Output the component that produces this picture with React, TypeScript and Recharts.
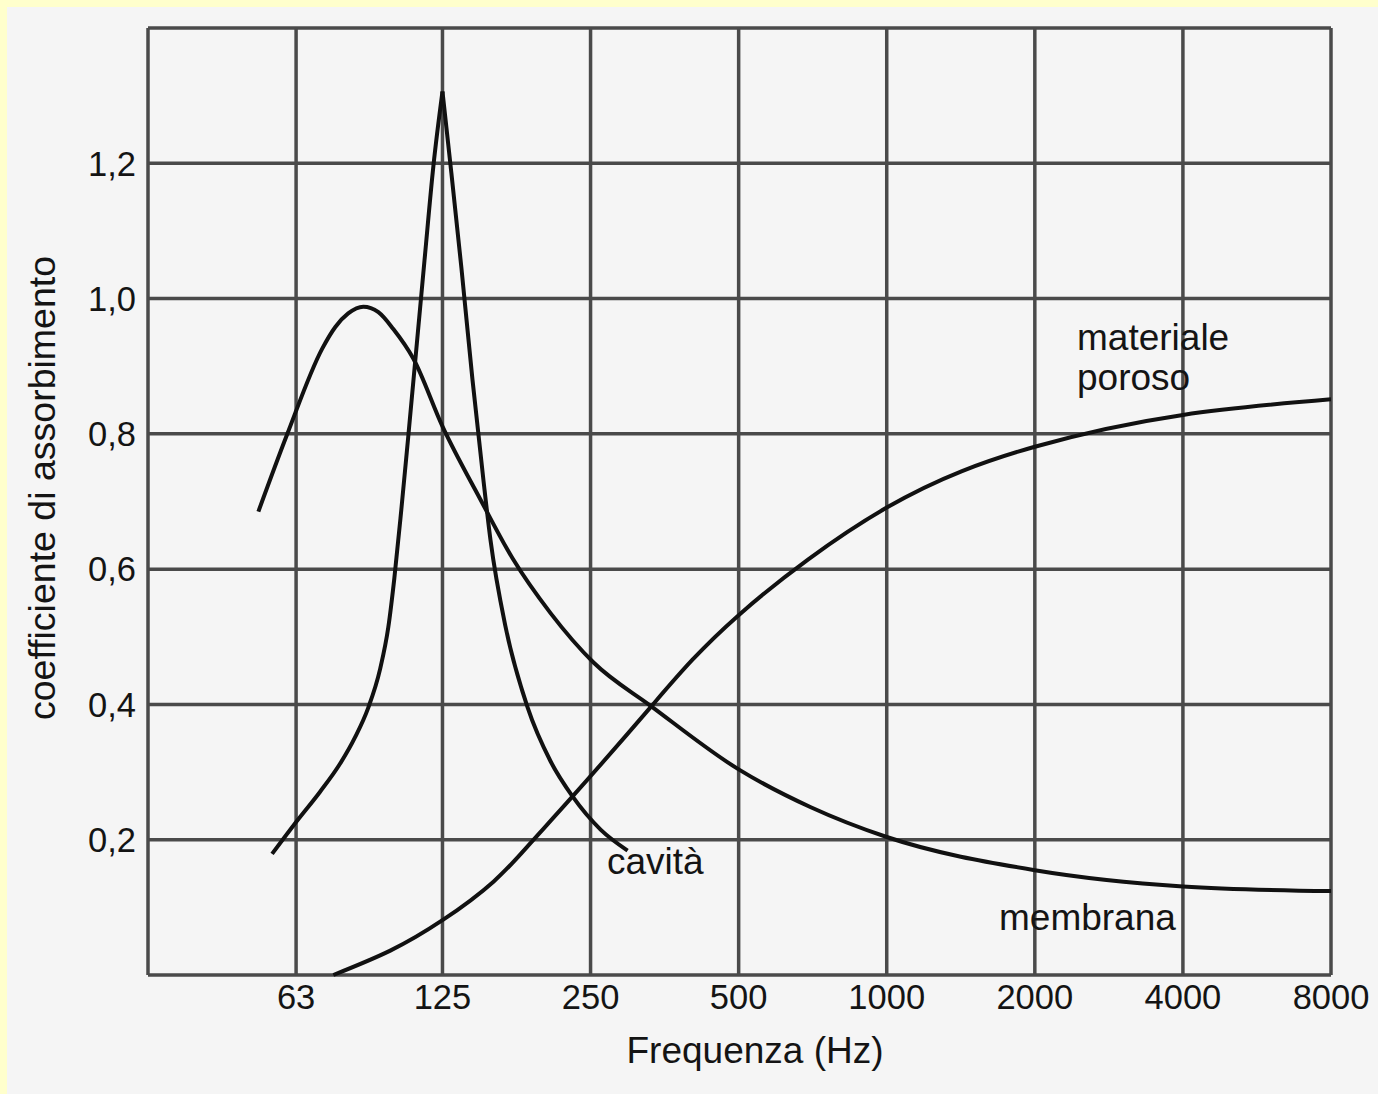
import React from 'react';
import { LineChart, Line, XAxis, YAxis, CartesianGrid } from 'recharts';

// octave band frequencies (Hz); 31.5 is the unlabelled left edge
const freqTicks = [31.5, 63, 125, 250, 500, 1000, 2000, 4000, 8000];
const alphaTicks = [0, 0.2, 0.4, 0.6, 0.8, 1.0, 1.2, 1.4];

// membrana
const membranaFreq = [52.8, 60.4, 71.2, 75.7, 80.4, 86.3, 92.6, 99.3, 109.1, 125, 149.3, 173.5, 207.3, 253.5, 331.2, 500, 700.9, 1000, 2000, 4000, 8000];
const membranaAlpha = [0.685, 0.799, 0.926, 0.958, 0.978, 0.988, 0.98, 0.955, 0.911, 0.811, 0.703, 0.616, 0.535, 0.462, 0.398, 0.304, 0.248, 0.204, 0.155, 0.131, 0.124];

// cavità (risonatore) - rising and falling side of the peak
const cavitaUpFreq = [56.3, 63.3, 70.5, 77.5, 83.1, 88.3, 93.4, 97.0, 99.8, 103.1, 106.5, 114.9, 119.8, 125];
const cavitaUpAlpha = [0.179, 0.228, 0.271, 0.313, 0.352, 0.395, 0.453, 0.514, 0.587, 0.688, 0.796, 1.056, 1.196, 1.306];
const cavitaDownFreq = [125, 130.3, 136.6, 143.8, 151.4, 156.5, 167.9, 186.1, 207.3, 229.8, 262.0, 297.3];
const cavitaDownAlpha = [1.306, 1.186, 1.045, 0.881, 0.732, 0.643, 0.515, 0.396, 0.316, 0.264, 0.215, 0.184];

// materiale poroso
const porosoFreq = [75, 97.9, 125, 158.7, 188.7, 229.8, 331.2, 500, 1000, 2000, 4000, 8000];
const porosoAlpha = [0, 0.036, 0.081, 0.138, 0.195, 0.264, 0.396, 0.532, 0.691, 0.781, 0.828, 0.851];

const toRows = (f: number[], a: number[]) => f.map((v, i) => ({ f: v, a: a[i] }));

const membrana = toRows(membranaFreq, membranaAlpha);
const cavitaUp = toRows(cavitaUpFreq, cavitaUpAlpha);
const cavitaDown = toRows(cavitaDownFreq, cavitaDownAlpha);
const poroso = toRows(porosoFreq, porosoAlpha);

const FONT = '"Liberation Sans", Arial, Helvetica, sans-serif';
const INK = '#141414';
const tickStyle = { fontSize: 34.5, fill: INK, fontFamily: FONT };

const curveProps = {
  dataKey: 'a',
  stroke: '#111',
  strokeWidth: 4,
  dot: false,
  activeDot: false,
  isAnimationActive: false,
};

export default function App() {
  return (
    <div style={{ position: 'fixed', left: 0, top: 0, width: 1378, height: 1094, background: '#ffffcc', overflow: 'hidden' }}>
      <div style={{ position: 'absolute', left: 7, top: 7, right: 0, bottom: 0, background: '#f5f5f5' }} />
      <div style={{ position: 'absolute', left: 0, top: 0 }}>
        <LineChart width={1378} height={1094} margin={{ top: 28, right: 47, bottom: 0, left: 0 }}>
          <CartesianGrid stroke="#4a4a4a" strokeWidth={3.5} />
          <XAxis
            dataKey="f"
            type="number"
            scale="log"
            domain={[31.5, 8000]}
            allowDataOverflow
            ticks={freqTicks}
            interval={0}
            height={119}
            axisLine={false}
            tickLine={false}
            tickSize={0}
            tickMargin={10}
            tick={tickStyle}
            tickFormatter={(v: number) => (v === 31.5 ? '' : String(v))}
          />
          <YAxis
            type="number"
            domain={[0, 1.4]}
            ticks={alphaTicks}
            interval={0}
            width={148}
            axisLine={false}
            tickLine={false}
            tickSize={0}
            tickMargin={12}
            tick={tickStyle}
            tickFormatter={(v: number) => (v === 0 || v === 1.4 ? '' : v.toFixed(1).replace('.', ','))}
          />
          <Line {...curveProps} type="monotone" data={membrana} name="membrana" />
          <Line {...curveProps} type="monotone" data={cavitaUp} name="cavità" />
          <Line {...curveProps} type="monotone" data={cavitaDown} name="cavità " />
          <Line {...curveProps} type="natural" data={poroso} name="materiale poroso" />
        </LineChart>
      </div>
      <svg width={1378} height={1094} style={{ position: 'absolute', left: 0, top: 0, pointerEvents: 'none' }}>
        <g fontFamily={FONT} fontSize={37} fill={INK}>
          <text x={1077} y={350}>materiale</text>
          <text x={1077} y={390}>poroso</text>
          <text x={607} y={874}>cavità</text>
          <text x={999} y={930}>membrana</text>
          <text x={755} y={1063} textAnchor="middle">Frequenza (Hz)</text>
          <text x={55} y={488} fontSize={37.5} textAnchor="middle" transform="rotate(-90, 55, 488)">
            coefficiente di assorbimento
          </text>
        </g>
      </svg>
    </div>
  );
}
